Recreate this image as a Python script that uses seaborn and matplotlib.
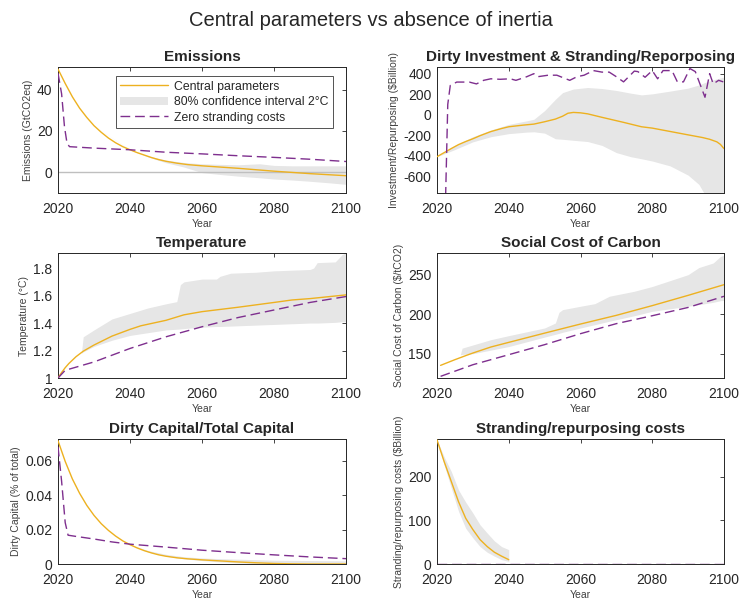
import numpy as np
import pandas as pd
import matplotlib
matplotlib.use("Agg")
import matplotlib.pyplot as plt
from matplotlib.patches import Patch
from matplotlib.lines import Line2D
from matplotlib.ticker import FuncFormatter
import seaborn as sns

# ---------------- data ----------------
# Emissions (GtCO2eq)
em_years = [2020, 2022, 2024, 2026, 2028, 2030, 2032, 2034, 2036, 2038, 2040, 2042, 2044, 2046, 2048, 2050,
            2053, 2056, 2060, 2065, 2070, 2075, 2080, 2085, 2090, 2095, 2100]
em_central = [50.0, 43.0, 36.5, 31.0, 26.5, 22.5, 19.3, 16.5, 14.2, 12.3, 10.8, 9.4, 8.2, 7.0, 6.0, 5.2,
              4.3, 3.6, 3.0, 2.4, 1.8, 1.1, 0.4, -0.2, -0.8, -1.3, -1.8]
em_zero_years = [2020, 2021, 2021.8, 2022.5, 2023.2, 2030, 2040, 2050, 2060, 2070, 2080, 2090, 2100]
em_zero = [48.0, 38.0, 22.0, 14.0, 12.3, 11.6, 10.8, 9.6, 8.8, 7.9, 7.1, 6.2, 5.1]
em_band_years = [2020, 2030, 2040, 2045, 2050, 2055, 2060, 2065, 2070, 2076, 2080, 2085, 2090, 2095, 2100]
em_band_low = [50.0, 22.5, 10.8, 7.3, 4.5, 2.4, -0.3, -1.2, -2.0, -2.8, -3.4, -3.9, -4.5, -5.2, -6.0]
em_band_high = [50.0, 22.5, 10.9, 7.8, 5.8, 4.6, 4.0, 3.7, 3.5, 4.0, 3.2, 3.0, 3.0, 3.0, 3.0]

# Dirty investment & stranding/repurposing ($Billion)
inv_years = [2020, 2022, 2024, 2026, 2028, 2030, 2032, 2035, 2038, 2040, 2044, 2047, 2050, 2053, 2055, 2056.5,
             2058, 2060, 2062, 2066, 2072, 2077, 2080, 2085, 2090, 2094, 2096, 2098, 2099, 2100]
inv_central = [-410, -370, -330, -292, -262, -235, -205, -165, -135, -118, -102, -92, -69, -43, -15, 14,
               22, 18, 8, -26, -75, -118, -131, -164, -197, -223, -240, -265, -290, -331]
inv_zero_years = [2022.4, 2023.0, 2023.7, 2025.5, 2029, 2031, 2033, 2035, 2037.6, 2040.4, 2042, 2045, 2047, 2048,
                  2051, 2053.4, 2057, 2059, 2061, 2063.6, 2066, 2068, 2070, 2072, 2075, 2076, 2078, 2080, 2081.5,
                  2083, 2085.5, 2087, 2088.7, 2090.5, 2092, 2093.4, 2094.7, 2096, 2097, 2098.5, 2099.8]
inv_zero = [-800, 100, 285, 318, 318, 300, 335, 350, 345, 350, 335, 370, 400, 370,
            385, 385, 335, 370, 385, 430, 415, 415, 370, 320, 425, 420, 365, 430, 350,
            430, 430, 320, 320, 450, 420, 290, 170, 400, 300, 335, 320]
inv_band_years = [2020, 2025, 2030, 2035, 2040, 2045, 2047, 2050, 2053, 2055, 2058, 2062, 2066, 2070, 2074, 2077,
                  2080, 2085, 2090, 2093, 2095, 2097, 2100]
inv_band_low = [-410, -340, -265, -215, -185, -170, -167, -180, -235, -240, -250, -262, -300, -370, -410, -430,
                -452, -500, -590, -680, -800, -800, -800]
inv_band_high = [-410, -300, -215, -150, -95, -60, -45, 40, 150, 215, 250, 265, 255, 236, 210, 193,
                 203, 230, 259, 290, 318, 340, 367]

# Temperature (°C)
t_years = [2020, 2021, 2022, 2023, 2024, 2025, 2027, 2030, 2035, 2040, 2043, 2050, 2055, 2060, 2070, 2080,
           2085, 2090, 2100]
t_central = [1.0, 1.04, 1.075, 1.105, 1.13, 1.155, 1.195, 1.24, 1.305, 1.354, 1.38, 1.42, 1.46, 1.483, 1.515,
             1.55, 1.568, 1.578, 1.605]
t_zero_years = [2020, 2022, 2030, 2040, 2050, 2060, 2070, 2080, 2090, 2100]
t_zero = [1.0, 1.056, 1.117, 1.215, 1.30, 1.373, 1.44, 1.495, 1.55, 1.593]
t_band_years = [2026.5, 2027, 2030, 2035, 2040, 2045, 2050, 2053, 2054, 2055, 2060, 2064, 2065, 2068, 2075, 2080,
                2090, 2091, 2092, 2097, 2099, 2100]
t_band_low = [1.18, 1.19, 1.23, 1.275, 1.31, 1.33, 1.35, 1.355, 1.357, 1.36, 1.37, 1.375, 1.375, 1.378, 1.385, 1.39,
              1.40, 1.40, 1.40, 1.405, 1.41, 1.41]
t_band_high = [1.18, 1.30, 1.35, 1.43, 1.47, 1.51, 1.54, 1.556, 1.68, 1.70, 1.72, 1.72, 1.74, 1.763, 1.77, 1.78,
               1.79, 1.80, 1.84, 1.845, 1.90, 1.91]

# Social cost of carbon ($/tCO2)
scc_years = [2021, 2025, 2028, 2030, 2035, 2040, 2050, 2060, 2070, 2080, 2090, 2100]
scc_central = [135.2, 142.4, 147.5, 150.8, 158.4, 164.3, 176.0, 187.5, 198.5, 210.8, 223.8, 237.3]
scc_zero_years = [2021, 2030, 2040, 2050, 2060, 2070, 2080, 2090, 2100]
scc_zero = [121.3, 136.0, 148.7, 161.4, 175.3, 188.0, 198.0, 208.5, 222.6]
scc_band_years = [2026.5, 2027, 2030, 2035, 2040, 2050, 2053, 2054, 2055, 2060, 2064, 2068, 2075, 2080, 2090, 2093,
                  2097, 2099, 2100]
scc_band_low = [148.7, 149.0, 150.0, 154.5, 159.0, 171.0, 174.5, 175.7, 177.0, 182.5, 186.7, 191.0, 198.0, 203.6,
                210.0, 212.0, 215.0, 217.0, 217.5]
scc_band_high = [148.7, 157.0, 161.0, 167.7, 172.8, 182.5, 188.8, 202.3, 205.7, 210.0, 213.3, 222.6, 229.0, 235.0,
                 250.0, 259.0, 264.8, 273.0, 274.5]

# Dirty capital / total capital
dk_years = [2020, 2022, 2024, 2026, 2028, 2030, 2032, 2034, 2036, 2038, 2040, 2042, 2044, 2046, 2048, 2050,
            2053, 2056, 2060, 2065, 2070, 2075, 2080, 2085, 2090, 2100]
dk_central = [0.0715, 0.0595, 0.0493, 0.041, 0.034, 0.0282, 0.0234, 0.0195, 0.0162, 0.0134, 0.0112, 0.0093,
              0.0077, 0.0064, 0.0053, 0.0045, 0.0036, 0.003, 0.0024, 0.0018, 0.0012, 0.0007, 0.0003, 0.0001,
              0.0, 0.0]
dk_zero_years = [2020, 2021, 2022, 2022.8, 2025, 2030, 2035, 2040, 2050, 2060, 2070, 2080, 2090, 2100]
dk_zero = [0.068, 0.048, 0.024, 0.0167, 0.016, 0.0145, 0.0128, 0.0115, 0.0098, 0.0080, 0.0066, 0.0053, 0.0041,
           0.0031]
dk_band_years = [2040, 2045, 2050, 2055, 2060, 2065, 2070, 2075, 2080, 2090, 2100]
dk_band_low = [0.0112, 0.007, 0.0045, 0.003, 0.002, 0.0012, 0.0006, 0.0002, 0.0, 0.0, 0.0]
dk_band_high = [0.0114, 0.0078, 0.0056, 0.0042, 0.0035, 0.0031, 0.0028, 0.0025, 0.0022, 0.002, 0.0018]

# Stranding / repurposing costs ($Billion)
sc_years = [2020, 2022, 2024, 2026, 2028, 2030, 2032, 2034, 2036, 2038, 2040]
sc_central = [285, 235, 189, 143, 105, 79, 56, 40, 27, 18, 10]
sc_band_low = [285, 227, 174, 121, 82, 60, 40, 27, 18, 10, 6]
sc_band_high = [285, 246, 212, 170, 142, 117, 90, 71, 53, 40, 33]
sc_zero_years = [2020, 2100]
sc_zero = [0, 0]

# ---------------- style ----------------
sns.set_style("white")
plt.rcParams["font.family"] = ["Liberation Sans", "DejaVu Sans"]

ORANGE = "#EDB120"
PURPLE = "#7E2F8E"
BAND = "#E6E6E6"
TICKC = "#262626"
LABELC = "#404040"
DASH = (0, (7, 3.5))

W, H = 742, 603
fig = plt.figure(figsize=(W / 100, H / 100), dpi=100)


def add_ax(x0, x1, y0, y1):
    return fig.add_axes([x0 / W, 1 - y1 / H, (x1 - x0) / W, (y1 - y0) / H])


fmt = FuncFormatter(lambda v, p: "%g" % round(v, 6))


def style(ax, title, ylabel, ylim, yticks):
    ax.set_xlim(2020, 2100)
    ax.set_ylim(*ylim)
    ax.set_xticks([2020, 2040, 2060, 2080, 2100])
    ax.set_yticks(yticks)
    ax.yaxis.set_major_formatter(fmt)
    ax.tick_params(direction="in", top=True, right=True, length=3, width=0.6,
                   labelsize=10, colors=TICKC)
    ax.tick_params(axis="x", pad=6.5)
    ax.tick_params(axis="y", pad=4)
    for s in ax.spines.values():
        s.set_color(TICKC)
        s.set_linewidth(0.7)
        s.set_visible(True)
    ax.set_title(title, fontsize=11, fontweight="bold", pad=4)
    ax.set_xlabel("Year", fontsize=7.5, color=LABELC, labelpad=2)
    ax.set_ylabel(ylabel, fontsize=7.5, color=LABELC, labelpad=3)


def draw(ax, by, blo, bhi, cy, cv, zy, zv):
    ax.fill_between(by, blo, bhi, color=BAND, linewidth=0, zorder=1)
    sns.lineplot(x=cy, y=cv, ax=ax, color=ORANGE, linewidth=1.0, errorbar=None, zorder=3)
    sns.lineplot(x=zy, y=zv, ax=ax, color=PURPLE, linewidth=1.0, errorbar=None,
                 linestyle=DASH, zorder=3)


LX = (58, 346)
RX = (437, 724)
R1 = (67, 193)
R2 = (253, 378)
R3 = (439, 564)

# Emissions
ax1 = add_ax(*LX, *R1)
ax1.axhline(0, color="#BFBFBF", linewidth=1.0, zorder=2)
draw(ax1, em_band_years, em_band_low, em_band_high, em_years, em_central, em_zero_years, em_zero)
style(ax1, "Emissions", "Emissions (GtCO2eq)", (-10.2, 51), [0, 20, 40])
handles = [Line2D([], [], color=ORANGE, linewidth=1.0),
           Patch(facecolor=BAND, edgecolor="none"),
           Line2D([], [], color=PURPLE, linewidth=1.0, linestyle=DASH)]
leg = ax1.legend(handles, ["Central parameters", "80% confidence interval 2°C", "Zero stranding costs"],
                 loc="upper right", bbox_to_anchor=(0.955, 0.925), fontsize=8.8, frameon=True,
                 fancybox=False, handlelength=3.9, handletextpad=0.5, borderpad=0.35,
                 labelspacing=0.28, borderaxespad=0)
leg.get_frame().set_edgecolor("#262626")
leg.get_frame().set_linewidth(0.7)

# Investment
ax2 = add_ax(*RX, *R1)
draw(ax2, inv_band_years, inv_band_low, inv_band_high, inv_years, inv_central, inv_zero_years, inv_zero)
style(ax2, "Dirty Investment & Stranding/Reporposing", "Investment/Repurposing ($Billion)",
      (-764, 465), [-600, -400, -200, 0, 200, 400])

# Temperature
ax3 = add_ax(*LX, *R2)
draw(ax3, t_band_years, t_band_low, t_band_high, t_years, t_central, t_zero_years, t_zero)
style(ax3, "Temperature", "Temperature (°C)", (1.0, 1.91), [1.0, 1.2, 1.4, 1.6, 1.8])

# Social cost of carbon
ax4 = add_ax(*RX, *R2)
draw(ax4, scc_band_years, scc_band_low, scc_band_high, scc_years, scc_central, scc_zero_years, scc_zero)
style(ax4, "Social Cost of Carbon", "Social Cost of Carbon ($/tCO2)", (119.2, 277.4), [150, 200, 250])

# Dirty capital
ax5 = add_ax(*LX, *R3)
draw(ax5, dk_band_years, dk_band_low, dk_band_high, dk_years, dk_central, dk_zero_years, dk_zero)
style(ax5, "Dirty Capital/Total Capital", "Dirty Capital (% of total)", (0, 0.0725), [0, 0.02, 0.04, 0.06])

# Stranding costs
ax6 = add_ax(*RX, *R3)
draw(ax6, sc_years, sc_band_low, sc_band_high, sc_years, sc_central, sc_zero_years, sc_zero)
style(ax6, "Stranding/repurposing costs", "Stranding/repurposing costs ($Billion)", (0, 287), [0, 100, 200])

fig.suptitle("Central parameters vs absence of inertia", fontsize=14.5, y=1 - 20 / H, va="center")

fig.savefig("out.png", dpi=100)
